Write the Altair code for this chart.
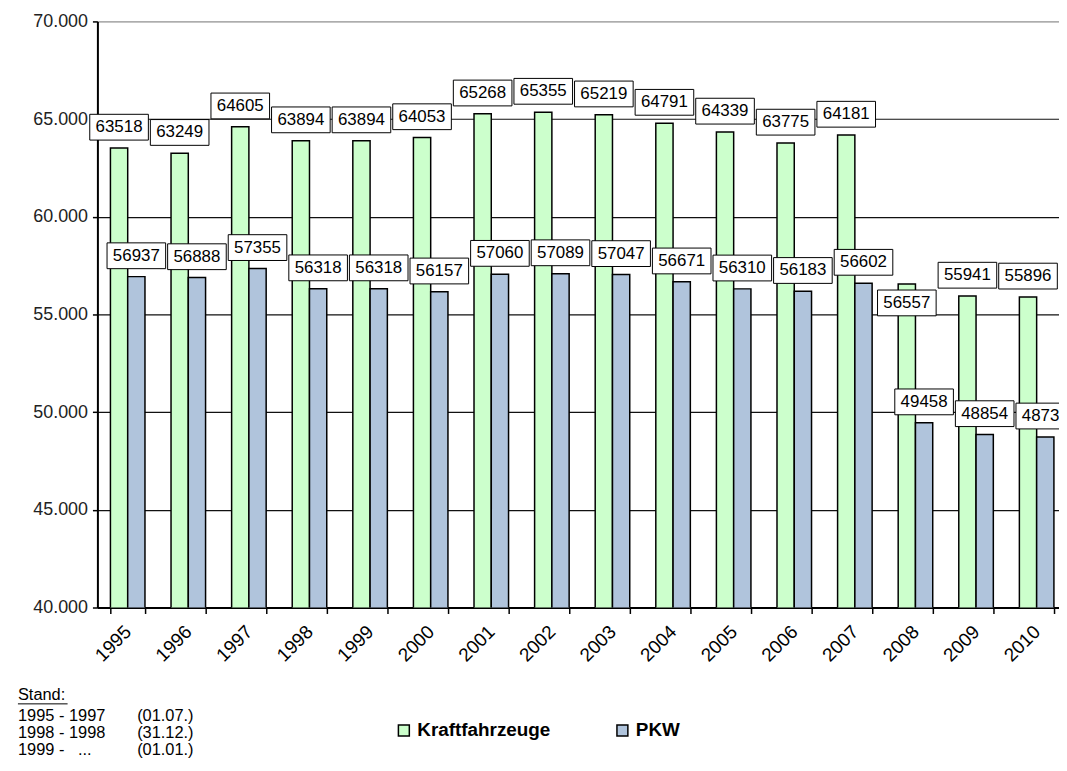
import altair as alt
import pandas as pd

years = ["1995", "1996", "1997", "1998", "1999", "2000", "2001", "2002",
         "2003", "2004", "2005", "2006", "2007", "2008", "2009", "2010"]
kfz = [63518, 63249, 64605, 63894, 63894, 64053, 65268, 65355,
       65219, 64791, 64339, 63775, 64181, 56557, 55941, 55896]
pkw = [56937, 56888, 57355, 56318, 56318, 56157, 57060, 57089,
       57047, 56671, 56310, 56183, 56602, 49458, 48854, 48734]
series = ["Kraftfahrzeuge", "PKW"]
colors = ["#ccffcc", "#b0c4dc"]
y_ticks = [40000, 45000, 50000, 55000, 60000, 65000, 70000]

stand_title = "Stand:"
stand_left = ["1995 - 1997", "1998 - 1998", "1999 -\u00a0\u00a0\u00a0..."]
stand_right = ["(01.07.)", "(31.12.)", "(01.01.)"]

rows = []
for i, yr in enumerate(years):
    rows.append({"Jahr": yr, "Serie": series[0], "Wert": kfz[i]})
    rows.append({"Jahr": yr, "Serie": series[1], "Wert": pkw[i]})
df = pd.DataFrame(rows)

FONT = "Liberation Sans"

base = alt.Chart(df).encode(
    x=alt.X("Jahr:N", sort=years, title=None,
            scale=alt.Scale(range=[0, 976], paddingInner=0.43, paddingOuter=0.215),
            axis=alt.Axis(labelAngle=-45, labelAlign="right", labelBaseline="middle",
                          labelFont=FONT, labelFontSize=19, labelColor="black",
                          labelPadding=15, tickBand="extent", tickSize=6,
                          tickColor="black", tickWidth=1.5, domainColor="black",
                          domainWidth=2, grid=False)),
    xOffset=alt.XOffset("Serie:N", sort=series, scale=alt.Scale(paddingInner=0)),
    y=alt.Y("Wert:Q", title=None,
            scale=alt.Scale(domain=[40000, 70000], zero=False, nice=False),
            axis=alt.Axis(values=y_ticks,
                          labelExpr="replace(format(datum.value, ','), ',', '.')",
                          labelFont=FONT, labelFontSize=18, labelColor="#222222",
                          labelPadding=5, tickSize=5, tickColor="black", tickWidth=1.5,
                          domainColor="black", domainWidth=2,
                          grid=True, gridWidth=1.2,
                          gridColor={"condition": {"test": "datum.value >= 70000",
                                                   "value": "#999999"},
                                     "value": "#111111"})),
)

bars = base.mark_bar(stroke="black", strokeWidth=1.5, clip=True).encode(
    color=alt.Color("Serie:N", sort=series,
                    scale=alt.Scale(domain=series, range=colors),
                    legend=alt.Legend(title=None, orient="none", direction="horizontal",
                                      legendX=299, legendY=704, padding=0,
                                      symbolType="square", symbolSize=121,
                                      symbolStrokeColor="black", symbolStrokeWidth=1.5,
                                      symbolOpacity=1,
                                      labelFont=FONT, labelFontSize=19,
                                      labelFontWeight="bold", labelColor="black",
                                      labelOffset=4, columnPadding=62))
)

# one label (2008, Kraftfahrzeuge) sits below its bar top in the original, to dodge its neighbour
moved = "datum.Jahr == '2008' && datum.Serie == 'Kraftfahrzeuge'"
BOX = "M-1,-0.44H1V0.44H-1Z"


def labels(test, dy):
    sub = base.transform_filter(test)
    bx = sub.mark_point(shape=BOX, size=3481, filled=True, fill="white",
                        stroke="black", strokeWidth=1, opacity=1, yOffset=dy)
    tx = sub.mark_text(font=FONT, fontSize=17, color="black", baseline="middle",
                       yOffset=dy).encode(text="Wert:Q")
    return bx, tx


boxes, texts = labels("!(" + moved + ")", -21)
boxes2, texts2 = labels(moved, 19)

one = pd.DataFrame({"k": [0]})
stand_head = alt.Chart(one).mark_text(
    text=stand_title, font=FONT, fontSize=16.5, align="left", baseline="alphabetic",
    color="black").encode(x=alt.value(-80), y=alt.value(683))
stand_line = alt.Chart(one).mark_rule(color="black", strokeWidth=1).encode(
    x=alt.value(-80), x2=alt.value(-30), y=alt.value(687))
stand_l = alt.Chart(one).mark_text(
    text=stand_left, font=FONT, fontSize=16.5, align="left", baseline="alphabetic",
    lineHeight=17, color="black").encode(x=alt.value(-80), y=alt.value(704))
stand_r = alt.Chart(one).mark_text(
    text=stand_right, font=FONT, fontSize=16.5, align="left", baseline="alphabetic",
    lineHeight=17, color="black").encode(x=alt.value(40), y=alt.value(704))

chart = alt.layer(bars, boxes, texts, boxes2, texts2,
                  stand_head, stand_line, stand_l, stand_r).properties(
    width=968, height=590,
    autosize=alt.AutoSizeParams(type="none"),
    padding={"left": 90, "top": 11, "right": 0, "bottom": 152},
).configure_view(stroke=None).configure(background="white")

chart.save("out.html", embed_options={"renderer": "svg", "actions": False})
